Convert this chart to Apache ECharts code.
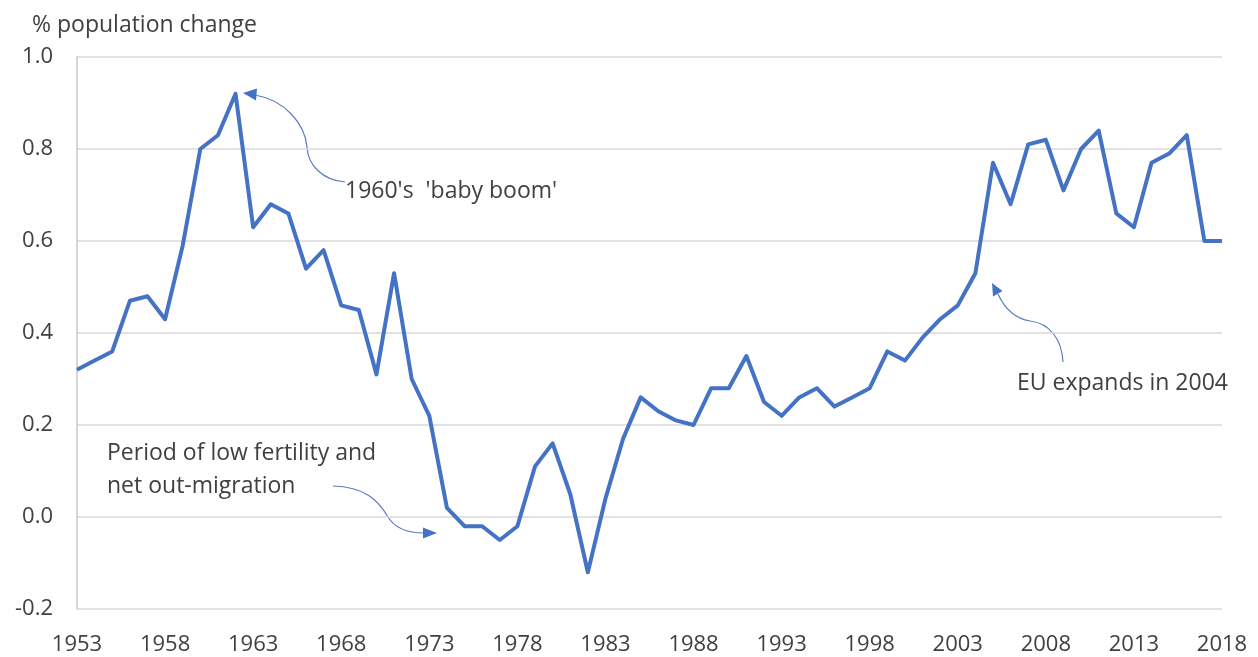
<!DOCTYPE html>
<html>
<head>
<meta charset="utf-8">
<script src="https://cdn.jsdelivr.net/npm/echarts@6/dist/echarts.min.js"></script>
<style>
  html, body { margin: 0; padding: 0; background: #ffffff; }
  #chart { width: 1258px; height: 657px; }
</style>
</head>
<body>
<div id="chart"></div>
<script>
// Annual population change (%), 1953–2018
const years = [
  '1953','1954','1955','1956','1957','1958','1959','1960','1961','1962',
  '1963','1964','1965','1966','1967','1968','1969','1970','1971','1972',
  '1973','1974','1975','1976','1977','1978','1979','1980','1981','1982',
  '1983','1984','1985','1986','1987','1988','1989','1990','1991','1992',
  '1993','1994','1995','1996','1997','1998','1999','2000','2001','2002',
  '2003','2004','2005','2006','2007','2008','2009','2010','2011','2012',
  '2013','2014','2015','2016','2017','2018'
];
const popChange = [
  0.32, 0.34, 0.36, 0.47, 0.48, 0.43, 0.59, 0.80, 0.83, 0.92,
  0.63, 0.68, 0.66, 0.54, 0.58, 0.46, 0.45, 0.31, 0.53, 0.30,
  0.22, 0.02, -0.02, -0.02, -0.05, -0.02, 0.11, 0.16, 0.05, -0.12,
  0.04, 0.17, 0.26, 0.23, 0.21, 0.20, 0.28, 0.28, 0.35, 0.25,
  0.22, 0.26, 0.28, 0.24, 0.26, 0.28, 0.36, 0.34, 0.39, 0.43,
  0.46, 0.53, 0.77, 0.68, 0.81, 0.82, 0.71, 0.80, 0.84, 0.66,
  0.63, 0.77, 0.79, 0.83, 0.60, 0.60
];
const yTicks = { min: -0.2, max: 1.0, step: 0.2 };
const axisTitle = '% population change';
const notes = {
  boom: "1960's  'baby boom'",
  lowLine1: 'Period of low fertility and',
  lowLine2: 'net out-migration',
  eu: 'EU expands in 2004'
};

const FONT = '"Open Sans", "Noto Sans", sans-serif';
const TEXT = '#404040';
const BLUE = '#4472C4';
const ARROW = '#5b7cc0';
const NOTE_SIZE = 23;
const AXIS_SIZE = 22;

const chart = echarts.init(document.getElementById('chart'), null, { renderer: 'canvas' });

const curve = (x1, y1, cpx1, cpy1, cpx2, cpy2, x2, y2) => ({
  type: 'bezierCurve', silent: true,
  shape: { x1, y1, cpx1, cpy1, cpx2, cpy2, x2, y2 },
  style: { stroke: ARROW, lineWidth: 1.2, fill: null }
});
const head = (pts) => ({
  type: 'polygon', silent: true,
  shape: { points: pts },
  style: { fill: BLUE, stroke: null }
});
const label = (x, y, text) => ({
  type: 'text', silent: true, x, y,
  style: { text, fill: TEXT, font: NOTE_SIZE + 'px ' + FONT, textVerticalAlign: 'middle', textAlign: 'left' }
});

chart.setOption({
  animation: false,
  backgroundColor: '#ffffff',
  grid: { left: 77, right: 36, top: 57, bottom: 48, containLabel: false },
  xAxis: {
    type: 'category',
    data: years,
    boundaryGap: false,
    axisLine: { show: false, onZero: false },
    axisTick: { show: false },
    splitLine: { show: false },
    axisLabel: {
      interval: 4,
      margin: 25,
      color: TEXT,
      fontFamily: FONT,
      fontSize: AXIS_SIZE
    }
  },
  yAxis: {
    type: 'value',
    min: yTicks.min,
    max: yTicks.max,
    interval: yTicks.step,
    axisLine: { show: true, lineStyle: { color: '#c8c8c8', width: 1.5 } },
    axisTick: { show: false },
    splitLine: { show: true, lineStyle: { color: '#d9d9d9', width: 1.5 } },
    axisLabel: {
      margin: 24,
      color: TEXT,
      fontFamily: FONT,
      fontSize: AXIS_SIZE,
      formatter: (v) => (Math.abs(v) < 1e-9 ? 0 : v).toFixed(1)
    }
  },
  series: [{
    type: 'line',
    data: popChange,
    symbol: 'none',
    lineStyle: { color: BLUE, width: 4, join: 'round' }
  }],
  graphic: [
    // axis title
    {
      type: 'text', silent: true, x: 32, y: 25,
      style: { text: axisTitle, fill: TEXT, font: NOTE_SIZE + 'px ' + FONT, textVerticalAlign: 'middle' }
    },
    // baby boom note
    label(345, 191, notes.boom),
    curve(345, 182, 322, 180, 308, 165, 307, 147),
    curve(307, 147, 305, 124, 285, 100, 255, 95),
    head([[243, 93], [257, 88.5], [256, 100.5]]),
    // low fertility note
    label(107, 453, notes.lowLine1),
    label(107, 486, notes.lowLine2),
    curve(333, 486, 365, 487, 378, 500, 388, 517),
    curve(388, 517, 396, 530, 410, 533, 424, 533),
    head([[437, 533], [423, 527.5], [423, 538.5]]),
    // EU expansion note
    label(1017, 383, notes.eu),
    curve(1063, 362, 1062, 340, 1050, 323, 1030, 321),
    curve(1030, 321, 1012, 318, 1003, 305, 998, 294),
    head([[992, 283], [1002.5, 291], [993, 296.5]])
  ]
});
</script>
</body>
</html>
